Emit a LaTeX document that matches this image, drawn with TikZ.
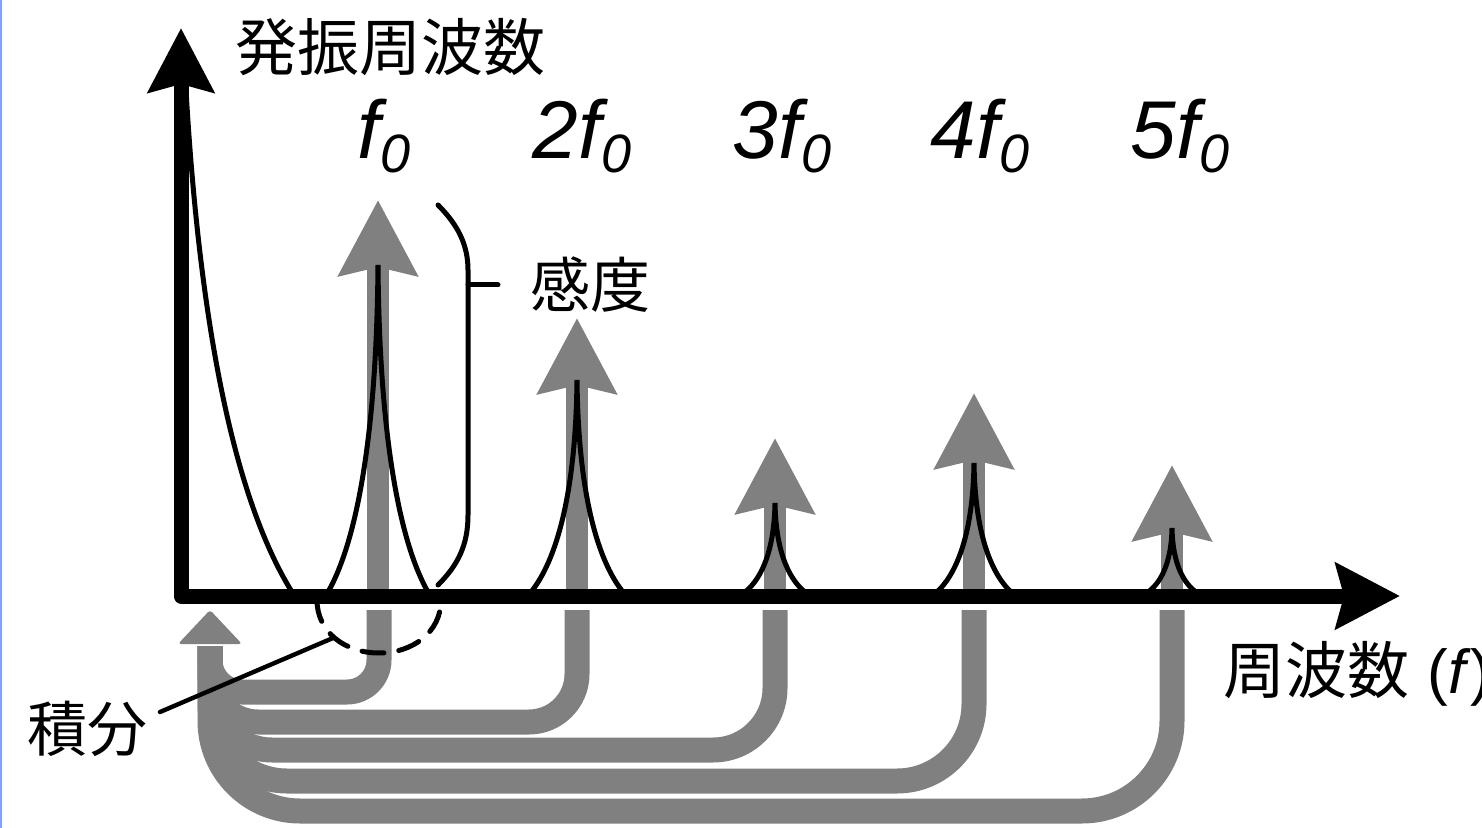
\documentclass[tikz,border=0pt]{standalone}
\usepackage{fontspec}
\setmainfont{Liberation Sans}
\newfontfamily\jpfont{Noto Sans CJK JP}
\usepackage{xcolor}
\usepackage{tikz}
\usetikzlibrary{arrows.meta}
\definecolor{flowgray}{RGB}{128,128,128}
\definecolor{edgeblue}{RGB}{130,160,255}
\newcommand{\harm}[1]{\fontsize{41}{41}\selectfont\itshape #1f\raisebox{-7pt}{\fontsize{27}{27}\selectfont 0}}

\begin{document}
\begin{tikzpicture}[
  x=0.5pt, y=-0.5pt,
  every node/.style={inner sep=0pt},
  axisline/.style={line width=7.5pt, line join=round,
    {Stealth[length=32pt,width=32.5pt,inset=4pt]}-{Stealth[length=32pt,width=32.5pt,inset=4pt]}},
  harmarrow/.style={flowgray, line width=11pt, -{Stealth[length=37.5pt,width=38.5pt,inset=4pt]}},
  band/.style={flowgray, line width=12.5pt},
  resp/.style={line width=2.5pt, line cap=round},
  jplabel/.style={font=\fontsize{30}{30}\selectfont\jpfont}
]
\useasboundingbox (0,0) rectangle (1482,828);
\draw[edgeblue, line width=0.8pt] (0.8,0) -- (0.8,828);

% flow of the harmonics back to the integral
\foreach \x/\y/\r in {1172/811/45pt, 974/781/38.5pt, 775/750/31pt, 577/722/24pt, 379/692/16pt} {
  \draw[band, rounded corners=\r] (\x,610) -- (\x,\y) -- (210,\y) -- (210,646);
}
\coordinate (sumtip) at (210,610);
\fill[flowgray, rounded corners=1.5pt] (sumtip) -- (242,644) -- (178,644) -- cycle;

% harmonics
\foreach \x/\tip/\pk/\w in {378/200/265/50, 577/318/380/46, 775/438/503/30, 974/393/463/37, 1172/465/528/24} {
  \draw[harmarrow] (\x,592) -- (\x,\tip);
  \draw[resp] ({\x-\w},592) .. controls ({\x-0.55*\w},{592-0.12*(592-\pk)}) and ({\x-0.03*\w},{592-0.4*(592-\pk)}) .. (\x,\pk)
    .. controls ({\x+0.03*\w},{592-0.4*(592-\pk)}) and ({\x+0.55*\w},{592-0.12*(592-\pk)}) .. ({\x+\w},592);
}
\draw[resp] (186,90) .. controls (200,330) and (235,500) .. (292,592);

% axes
\draw[axisline] (181,28) -- (181,596) -- (1400,596);

% integral range
\draw[resp, dash pattern=on 11pt off 7.5pt] (317,600) .. controls (317,632) and (345,653) .. (379,653)
  .. controls (413,653) and (441,632) .. (441,600);
\coordinate (integpt) at (333,638);
\coordinate (integend) at (160,712);
\draw[line width=2.2pt, line cap=round] (integend) -- (integpt);

% sensitivity bracket
\draw[resp] (438,205) .. controls (458,225) and (468,245) .. (468,270) -- (468,515)
  .. controls (468,545) and (458,565) .. (438,585);
\coordinate (bracetip) at (468,285);
\draw[resp] (bracetip) -- ++(30,0);

% labels
\node[jplabel, font=\fontsize{31}{31}\selectfont\jpfont] (ylab) at (390,47) {発振周波数};
\node[jplabel] (sens) at (590,285) {感度};
\node[jplabel] (integ) at (87,729) {積分};
\node[anchor=west, font=\fontsize{31}{31}\selectfont] (xlab) at (1223,674) {{\jpfont 周波数}\hspace{9pt}(\textit{f})};
\foreach \x/\n/\lab in {384/h1/, 582/h2/2, 782/h3/3, 980/h4/4, 1180/h5/5} {
  \node[anchor=base] (\n) at (\x,159) {\harm{\lab}};
}
\end{tikzpicture}
\end{document}
